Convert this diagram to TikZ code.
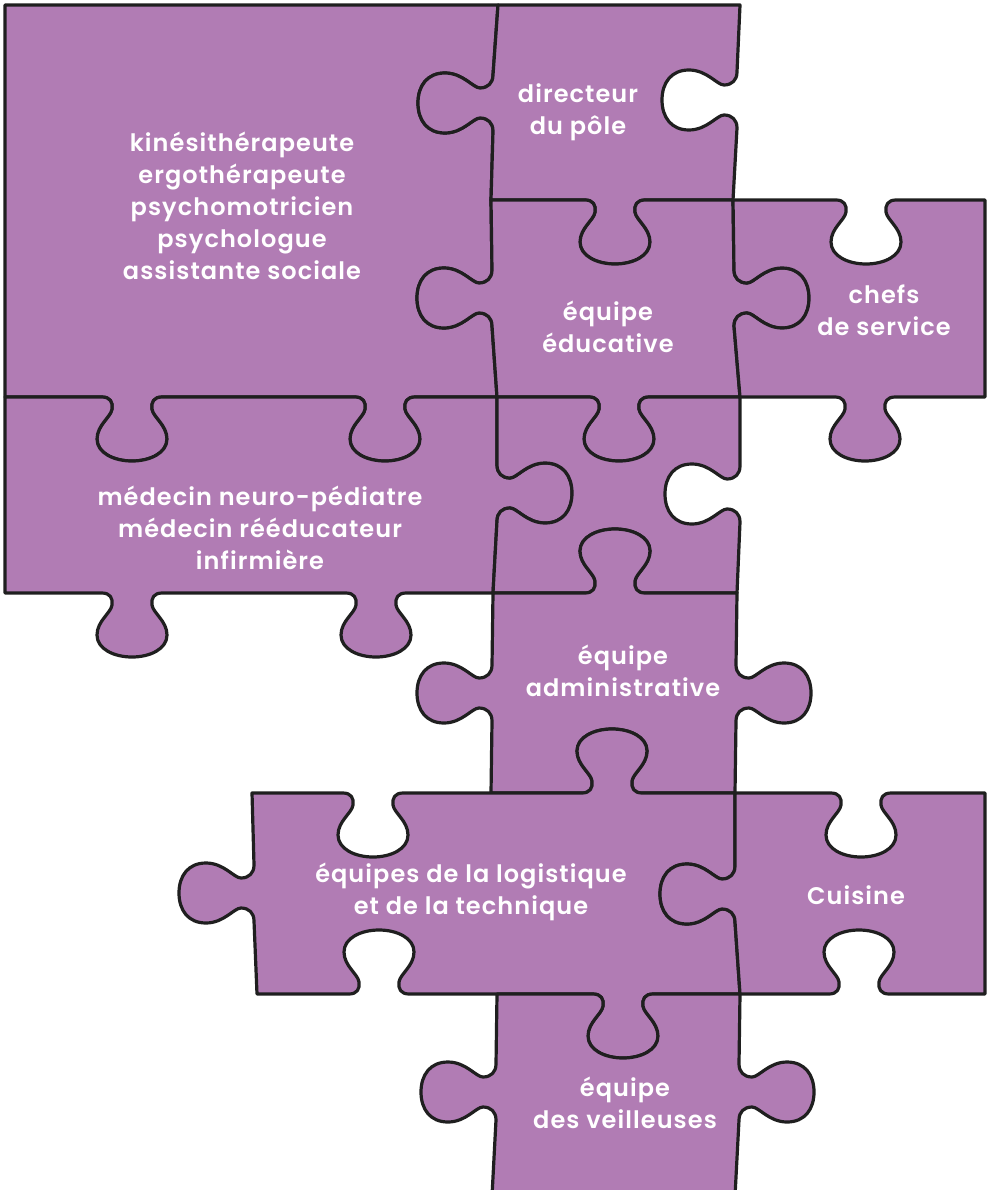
\documentclass[tikz,border=0pt]{standalone}
\usepackage{fontspec}
\newfontfamily\pf{Poppins}[BoldFont={* SemiBold}, LetterSpace=4.5]
\definecolor{puz}{RGB}{177,124,180}
\tikzset{
  piece/.style={fill=puz, draw=black!88, line width=3.2pt, line join=round},
  vt/.style n args={4}{insert path={
    -- ({#1-(#4)*30},#2)
    .. controls ({#1-(#4)*22},#2) and ({#1-(#4)*19},{#2+(#3)*5}) .. ({#1-(#4)*20},{#2+(#3)*12})
    .. controls ({#1-(#4)*21},{#2+(#3)*20}) and ({#1-(#4)*35},{#2+(#3)*28}) .. ({#1-(#4)*35},{#2+(#3)*42})
    .. controls ({#1-(#4)*35},{#2+(#3)*56}) and ({#1-(#4)*18},{#2+(#3)*64}) .. ({#1},{#2+(#3)*64})
    .. controls ({#1+(#4)*18},{#2+(#3)*64}) and ({#1+(#4)*35},{#2+(#3)*56}) .. ({#1+(#4)*35},{#2+(#3)*42})
    .. controls ({#1+(#4)*35},{#2+(#3)*28}) and ({#1+(#4)*21},{#2+(#3)*20}) .. ({#1+(#4)*20},{#2+(#3)*12})
    .. controls ({#1+(#4)*19},{#2+(#3)*5}) and ({#1+(#4)*22},#2) .. ({#1+(#4)*30},#2)
  }},
  ht/.style n args={4}{insert path={
    -- (#1,{#2-(#4)*28})
    .. controls (#1,{#2-(#4)*20}) and ({#1+(#3)*5},{#2-(#4)*15}) .. ({#1+(#3)*13},{#2-(#4)*15})
    .. controls ({#1+(#3)*20},{#2-(#4)*15}) and ({#1+(#3)*30},{#2-(#4)*30}) .. ({#1+(#3)*48},{#2-(#4)*30})
    .. controls ({#1+(#3)*66},{#2-(#4)*30}) and ({#1+(#3)*75},{#2-(#4)*17}) .. ({#1+(#3)*75},#2)
    .. controls ({#1+(#3)*75},{#2+(#4)*17}) and ({#1+(#3)*66},{#2+(#4)*30}) .. ({#1+(#3)*48},{#2+(#4)*30})
    .. controls ({#1+(#3)*30},{#2+(#4)*30}) and ({#1+(#3)*20},{#2+(#4)*15}) .. ({#1+(#3)*13},{#2+(#4)*15})
    .. controls ({#1+(#3)*5},{#2+(#4)*15}) and (#1,{#2+(#4)*20}) .. (#1,{#2+(#4)*28})
  }},
  lbl/.style={text=white, align=center, inner sep=0pt, font=\pf\bfseries\fontsize{24}{32}\selectfont}
}
\begin{document}
\begin{tikzpicture}[x=1pt,y=-1pt]
\useasboundingbox (0,0) rectangle (990,1190);
% big piece
\path[piece] (5,5) -- (498,5) [ht={493}{103}{-1}{1}] -- (491,200) [ht={492}{298}{-1}{1}] -- (497,397)
  [vt={385}{397}{1}{-1}] [vt={132}{397}{1}{-1}] -- (5,397) -- cycle;
% directeur
\path[piece] (498,5) -- (740,5) [ht={737}{100}{-1}{1}] -- (733,200) [vt={615}{200}{1}{-1}] -- (491,200)
  [ht={493}{103}{-1}{-1}] -- cycle;
% equipe educative
\path[piece] (491,200) [vt={615}{200}{1}{1}] -- (733,200) [ht={734}{298}{1}{1}] -- (740,397)
  [vt={619}{397}{1}{-1}] -- (497,397) [ht={492}{298}{-1}{-1}] -- cycle;
% chefs de service
\path[piece] (733,200) [vt={866}{200}{1}{1}] -- (985,200) -- (985,397) [vt={865}{397}{1}{-1}] -- (740,397)
  [ht={734}{298}{1}{-1}] -- cycle;
% medecin
\path[piece] (5,397) [vt={132}{397}{1}{1}] [vt={385}{397}{1}{1}] -- (497,397) [ht={497}{493}{1}{1}] -- (493,593)
  [vt={376}{593}{1}{-1}] [vt={132}{593}{1}{-1}] -- (5,593) -- cycle;
% middle piece
\path[piece] (497,397) [vt={619}{397}{1}{1}] -- (740,397) [ht={740}{494}{-1}{1}] -- (737,593)
  [vt={615}{593}{-1}{-1}] -- (493,593) [ht={497}{493}{1}{-1}] -- cycle;
% administrative
\path[piece] (493,593) [vt={615}{593}{-1}{1}] -- (737,593) [ht={736}{693}{1}{1}] -- (735,793)
  [vt={612}{793}{-1}{-1}] -- (491,793) [ht={492}{693}{-1}{-1}] -- cycle;
% logistique
\path[piece] (252,793) [vt={373}{793}{1}{1}] [vt={612}{793}{-1}{1}] -- (735,793) [ht={735}{894}{-1}{1}] -- (740,994)
  [vt={623}{994}{1}{-1}] [vt={379}{994}{-1}{-1}] -- (257,994) [ht={254}{893}{-1}{-1}] -- cycle;
% cuisine
\path[piece] (735,793) [vt={861}{793}{1}{1}] -- (985,793) -- (985,994) [vt={859}{994}{-1}{-1}] -- (740,994)
  [ht={735}{894}{-1}{-1}] -- cycle;
% veilleuses
\path[piece] (497,994) [vt={623}{994}{1}{1}] -- (740,994) [ht={739}{1092}{1}{1}] -- (735,1196) -- (492,1196)
  [ht={496}{1092}{-1}{-1}] -- cycle;
% labels
\node[lbl] (tbig) at (242,206) {kinésithérapeute\\ergothérapeute\\psychomotricien\\psychologue\\assistante sociale};
\node[lbl] (tdir) at (578,112) {directeur\\du pôle};
\node[lbl] (tedu) at (608,327) {équipe\\éducative};
\node[lbl] (tchef) at (884,310) {chefs\\de service};
\node[lbl] (tmed) at (260,528) {médecin neuro-pédiatre\\médecin rééducateur\\infirmière};
\node[lbl] (tadm) at (623,671) {équipe\\administrative};
\node[lbl] (tlog) at (471,892) {équipes de la logistique\\et de la technique};
\node[lbl] (tcui) at (856,895) {Cuisine};
\node[lbl] (tvei) at (625,1103) {équipe\\des veilleuses};
\end{tikzpicture}
\end{document}
